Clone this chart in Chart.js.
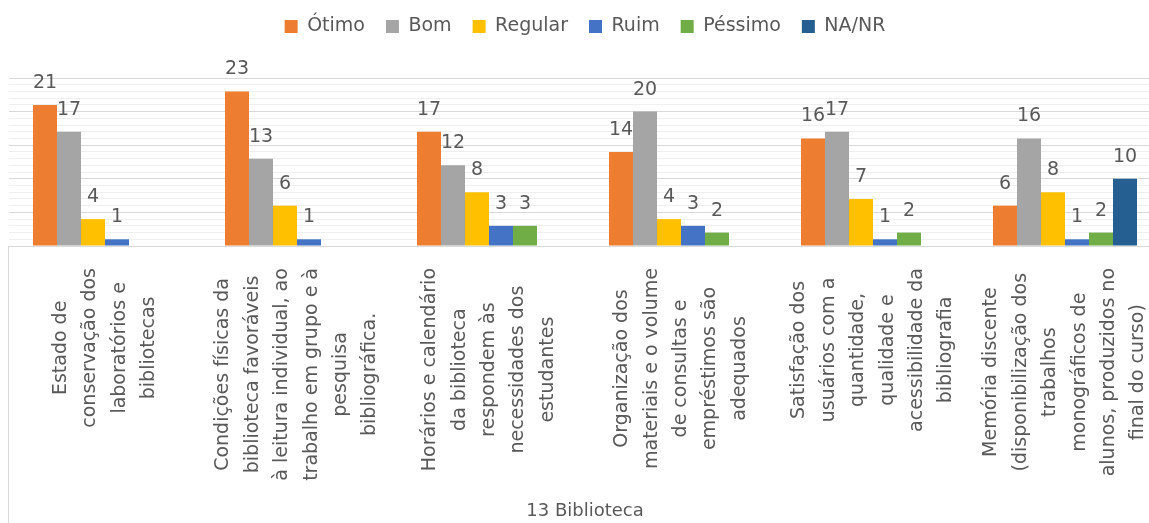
<!DOCTYPE html>
<html>
<head>
<meta charset="utf-8">
<script src="https://cdn.jsdelivr.net/npm/chart.js@4.4.1/dist/chart.umd.min.js"></script>
<style>
  html, body { margin: 0; padding: 0; background: #fff; overflow: hidden; }
  #wrap { width: 1165px; height: 523px; position: relative; }
</style>
</head>
<body>
<div id="wrap"><canvas id="chart"></canvas></div>
<script>
const categories = [
    ['Estado de', 'conservação dos', 'laboratórios e', 'bibliotecas'],
    ['Condições físicas da', 'biblioteca favoráveis', 'à leitura individual, ao', 'trabalho em grupo e à', 'pesquisa', 'bibliográfica.'],
    ['Horários e calendário', 'da biblioteca', 'respondem às', 'necessidades dos', 'estudantes'],
    ['Organização dos', 'materiais e o volume', 'de consultas e', 'empréstimos são', 'adequados'],
    ['Satisfação dos', 'usuários com a', 'quantidade,', 'qualidade e', 'acessibilidade da', 'bibliografia'],
    ['Memória discente', '(disponibilização dos', 'trabalhos', 'monográficos de', 'alunos, produzidos no', 'final do curso)']
];
const seriesNames = ['Ótimo', 'Bom', 'Regular', 'Ruim', 'Péssimo', 'NA/NR'];
const otimo   = [21, 23, 17, 14, 16, 6];
const bom     = [17, 13, 12, 20, 17, 16];
const regular = [4, 6, 8, 4, 7, 8];
const ruim    = [1, 1, 3, 3, 1, 1];
const pessimo = [null, null, 3, 2, 2, 2];
const naNr    = [null, null, null, null, null, 10];
const axisTitle = '13 Biblioteca';
const yMax = 25;

const FONT = '"DejaVu Sans", sans-serif';
const TEXT = '#595959';
const colors = ['#ED7D31', '#A5A5A5', '#FFC000', '#4472C4', '#70AD47', '#255E91'];

// numbers above the bars
const valueLabels = {
    id: 'valueLabels',
    afterDatasetsDraw(chart) {
        const ctx = chart.ctx;
        ctx.save();
        ctx.font = '19px ' + FONT;
        ctx.fillStyle = TEXT;
        ctx.textAlign = 'center';
        ctx.textBaseline = 'alphabetic';
        chart.data.datasets.forEach((ds, i) => {
            chart.getDatasetMeta(i).data.forEach((bar, j) => {
                if (ds.data[j] == null) return;
                ctx.fillText(String(ds.data[j]), bar.x, bar.y - 17);
            });
        });
        ctx.restore();
    }
};

// rotated multi-line category labels, lines centred on each other
const categoryLabels = {
    id: 'categoryLabels',
    afterDraw(chart) {
        const ctx = chart.ctx;
        const x = chart.scales.x;
        ctx.save();
        ctx.font = '19px ' + FONT;
        ctx.fillStyle = TEXT;
        ctx.textAlign = 'center';
        ctx.textBaseline = 'middle';
        categories.forEach((lines, i) => {
            const cx = x.getPixelForValue(i);
            const maxW = Math.max(...lines.map(l => ctx.measureText(l).width));
            const cy = x.top + 22 + maxW / 2;
            lines.forEach((line, j) => {
                ctx.save();
                ctx.translate(cx + (j - (lines.length - 1) / 2) * 29.4, cy);
                ctx.rotate(-Math.PI / 2);
                ctx.fillText(line, 0, 0);
                ctx.restore();
            });
        });
        ctx.strokeStyle = '#d9d9d9';
        ctx.lineWidth = 1;
        ctx.beginPath();
        ctx.moveTo(Math.round(chart.chartArea.left) - 0.5, x.top);
        ctx.lineTo(Math.round(chart.chartArea.left) - 0.5, chart.height);
        ctx.stroke();
        ctx.restore();
    }
};

const datasets = [otimo, bom, regular, ruim, pessimo, naNr].map((values, i) => ({
    label: seriesNames[i],
    data: values,
    backgroundColor: colors[i],
    borderWidth: 0,
    categoryPercentage: 0.75,
    barPercentage: 1.0
}));

new Chart(document.getElementById('chart'), {
    type: 'bar',
    data: {
        labels: categories.map(c => c.join(' ')),
        datasets: datasets
    },
    options: {
        responsive: true,
        maintainAspectRatio: false,
        animation: false,
        layout: { padding: { left: 9, right: 4, top: -4, bottom: 0 } },
        plugins: {
            legend: {
                position: 'top',
                weight: 3000,
                labels: {
                    font: { family: FONT, size: 19 },
                    color: TEXT,
                    boxWidth: 13,
                    boxHeight: 13,
                    padding: 21
                }
            },
            // empty title used as a gap between legend and plot
            title: {
                display: true,
                text: '',
                weight: 2000,
                font: { size: 10 },
                padding: { top: 10, bottom: 10 }
            },
            tooltip: { enabled: false }
        },
        scales: {
            x: {
                grid: { display: false },
                border: { color: '#d9d9d9' },
                ticks: { display: false },
                title: {
                    display: true,
                    text: axisTitle,
                    color: TEXT,
                    font: { family: FONT, size: 18 },
                    padding: { top: 0, bottom: 1 }
                },
                afterFit: s => { s.height = 277; }
            },
            y: {
                min: 0,
                max: yMax,
                ticks: { display: false },
                border: { display: false },
                grid: {
                    drawTicks: false,
                    color: c => (c.tick && c.tick.value % 5 === 0) ? '#d9d9d9' : '#efefef'
                },
                afterBuildTicks: s => {
                    const t = [];
                    for (let v = 0; v <= yMax; v++) t.push({ value: v });
                    s.ticks = t;
                },
                afterFit: s => { s.width = 0; }
            }
        }
    },
    plugins: [valueLabels, categoryLabels]
});
</script>
</body>
</html>
